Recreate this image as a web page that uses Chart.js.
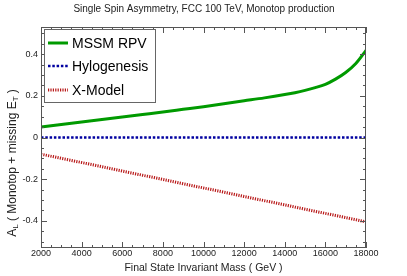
<!DOCTYPE html>
<html>
<head>
<meta charset="utf-8">
<script src="https://cdn.jsdelivr.net/npm/chart.js@4.4.1/dist/chart.umd.min.js"></script>
<style>
  body { margin: 0; background: #fff; }
  canvas { display: block; }
</style>
</head>
<body>
<canvas id="chart" width="407" height="276"></canvas>
<script>
// values
const masses = [2000, 3000, 4000, 5000, 6000, 7000, 8000, 9000, 10000, 11000, 12000,
                13000, 14000, 14500, 15000, 15500, 16000, 16500, 17000, 17500, 18000];
const mssmRpv = [0.050, 0.062, 0.074, 0.086, 0.098, 0.110, 0.122, 0.135, 0.148, 0.162, 0.176,
                 0.190, 0.206, 0.215, 0.226, 0.239, 0.255, 0.280, 0.312, 0.355, 0.418];
const hylogenesis = [0, 0, 0, 0, 0, 0, 0, 0, 0, 0, 0, 0, 0, 0, 0, 0, 0, 0, 0, 0, 0];
const xModel = [-0.080, -0.100, -0.120, -0.140, -0.161, -0.181, -0.201, -0.222, -0.242, -0.262, -0.283,
                -0.303, -0.323, -0.334, -0.344, -0.354, -0.364, -0.374, -0.384, -0.394, -0.405];

const seriesNames = ["MSSM RPV", "Hylogenesis", "X-Model"];
const xTickLabels = [2000, 4000, 6000, 8000, 10000, 12000, 14000, 16000, 18000];
const yTickLabels = [-0.4, -0.2, 0, 0.2, 0.4];

const FONT = "'Liberation Sans', Arial, sans-serif";

function points(ys) {
  return masses.map((m, i) => ({ x: m, y: ys[i] }));
}

// frame with inward ticks on all four sides, tick labels and axis titles
const framePlugin = {
  id: "frame",
  afterDatasetsDraw(chart) {
    const { ctx, chartArea: a, scales: { x, y } } = chart;
    ctx.save();
    ctx.strokeStyle = "#555";
    ctx.lineWidth = 1;
    ctx.strokeRect(a.left + 0.5, a.top + 0.5, a.right - a.left - 1, a.bottom - a.top - 1);

    ctx.beginPath();
    for (let v = 2000; v <= 18000; v += 500) {
      const px = Math.round(x.getPixelForValue(v)) + 0.5;
      const len = v % 2000 === 0 ? 6 : 3;
      ctx.moveTo(px, a.bottom); ctx.lineTo(px, a.bottom - len);
      ctx.moveTo(px, a.top); ctx.lineTo(px, a.top + len);
    }
    for (let k = -10; k <= 10; k++) {
      const v = k * 0.05;
      const py = Math.round(y.getPixelForValue(v)) + 0.5;
      const len = k % 4 === 0 ? 6 : 3;
      ctx.moveTo(a.left, py); ctx.lineTo(a.left + len, py);
      ctx.moveTo(a.right, py); ctx.lineTo(a.right - len, py);
    }
    ctx.stroke();

    ctx.fillStyle = "#222";
    ctx.font = "9px " + FONT;
    ctx.textAlign = "center";
    ctx.textBaseline = "middle";
    xTickLabels.forEach(v => ctx.fillText(String(v), x.getPixelForValue(v), a.bottom + 6));
    ctx.textAlign = "right";
    yTickLabels.forEach(v => ctx.fillText(String(v), a.left - 3, y.getPixelForValue(v)));

    // titles
    ctx.textAlign = "center";
    ctx.font = "10px " + FONT;
    ctx.fillText("Single Spin Asymmetry, FCC 100 TeV, Monotop production", 204, 9);
    ctx.font = "10.5px " + FONT;
    ctx.fillText("Final State Invariant Mass ( GeV )", (a.left + a.right) / 2, 268);

    // y title with subscripts
    const parts = [["A", 12, 0], ["L", 8, 3], [" ( Monotop + missing E", 12, 0], ["T", 8, 3], [" )", 12, 0]];
    let total = 0;
    parts.forEach(p => { ctx.font = p[1] + "px " + FONT; total += ctx.measureText(p[0]).width; });
    ctx.translate(13, 163);
    ctx.rotate(-Math.PI / 2);
    ctx.textAlign = "left";
    let cx = -total / 2;
    parts.forEach(p => {
      ctx.font = p[1] + "px " + FONT;
      ctx.fillText(p[0], cx, p[2]);
      cx += ctx.measureText(p[0]).width;
    });
    ctx.restore();
  },
  afterDraw(chart) {
    // legend box in the top left corner of the plot
    const { ctx } = chart;
    ctx.save();
    ctx.fillStyle = "#fff";
    ctx.fillRect(44, 29, 111, 73);
    ctx.strokeStyle = "#666";
    ctx.lineWidth = 1;
    ctx.strokeRect(44.5, 29.5, 111, 73);
    const rows = [43, 66, 90];
    chart.data.datasets.forEach((ds, i) => {
      ctx.strokeStyle = ds.borderColor;
      ctx.lineWidth = ds.borderWidth;
      ctx.setLineDash(ds.borderDash || []);
      ctx.beginPath();
      ctx.moveTo(48, rows[i]);
      ctx.lineTo(68, rows[i]);
      ctx.stroke();
      ctx.setLineDash([]);
      ctx.fillStyle = "#000";
      ctx.font = "14px " + FONT;
      ctx.textBaseline = "middle";
      ctx.fillText(ds.label, 72, rows[i] + 1);
    });
    ctx.restore();
  }
};

new Chart(document.getElementById("chart"), {
  type: "line",
  data: {
    datasets: [
      { label: seriesNames[0], data: points(mssmRpv), borderColor: "#009a00", borderWidth: 3,
        pointRadius: 0, cubicInterpolationMode: "monotone" },
      { label: seriesNames[1], data: points(hylogenesis), borderColor: "#0000a0", borderWidth: 2.5,
        borderDash: [2.5, 1.8], pointRadius: 0 },
      { label: seriesNames[2], data: points(xModel), borderColor: "#b81818", borderWidth: 3,
        borderDash: [1.2, 1.2], pointRadius: 0 }
    ]
  },
  options: {
    responsive: false,
    animation: false,
    layout: { padding: { left: 41, right: 41, top: 27, bottom: 28 } },
    plugins: { legend: { display: false }, tooltip: { enabled: false } },
    scales: {
      x: { type: "linear", min: 2000, max: 18000, display: false },
      y: { type: "linear", min: -0.53, max: 0.53, display: false }
    }
  },
  plugins: [framePlugin]
});
</script>
</body>
</html>
